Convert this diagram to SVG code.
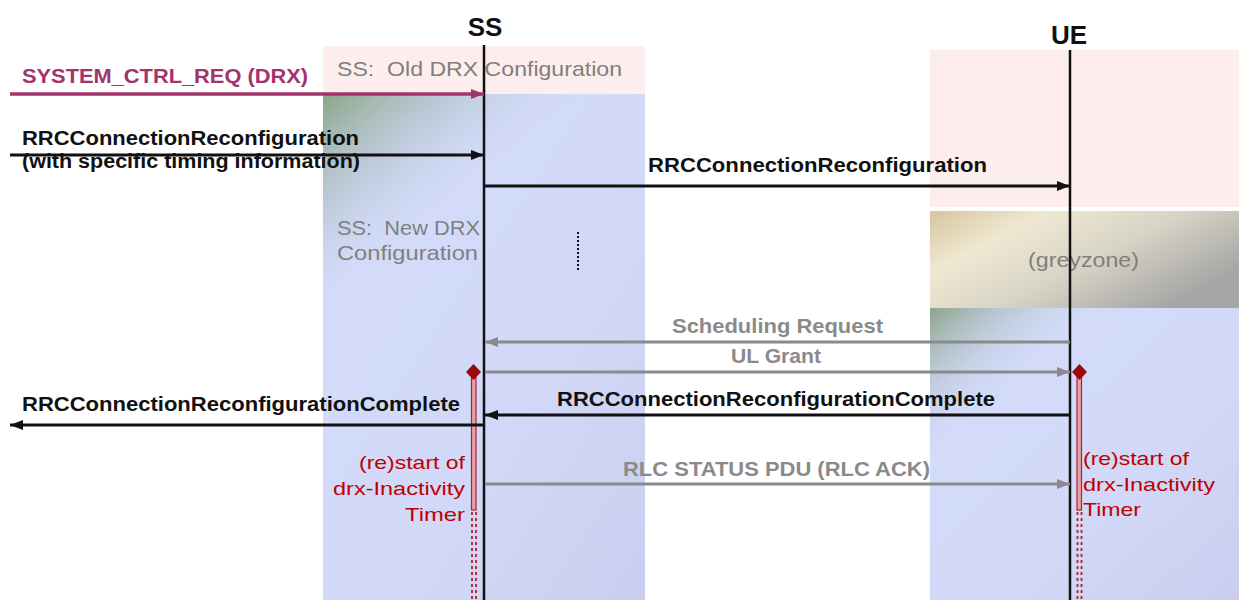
<svg xmlns="http://www.w3.org/2000/svg" width="1239" height="600" viewBox="0 0 1239 600">
  <style>
    .msg { font-family: "Liberation Sans", Arial, sans-serif; font-size: 20px; font-weight: bold; fill: #111111; }
    .gmsg { font-family: "Liberation Sans", Arial, sans-serif; font-size: 20px; font-weight: bold; fill: #8a8a8a; }
    .note { font-family: "Liberation Sans", Arial, sans-serif; font-size: 21px; fill: #7f7f7f; }
    .timer { font-family: "Liberation Sans", Arial, sans-serif; font-size: 19px; fill: #c00000; }
    .title { font-family: "Liberation Sans", Arial, sans-serif; font-size: 26px; font-weight: bold; fill: #111111; }
    .life { stroke: #111111; stroke-width: 2.5; fill: none; }
    .blk { stroke: #111111; stroke-width: 3; fill: none; marker-end: url(#hBlack); }
    .gry { stroke: #8a8a8a; stroke-width: 3; fill: none; marker-end: url(#hGrey); }
    .mag { stroke: #a3336b; stroke-width: 3.5; fill: none; marker-end: url(#hMag); }
    .bar { fill: #e6a2a6; stroke: #b0202a; stroke-width: 1.2; }
    .dots { stroke: #b0202a; stroke-width: 1.8; stroke-dasharray: 3 3; fill: none; }
    .dia { fill: #9b0a0a; }
  </style>
  <defs>
    <marker id="hBlack" markerUnits="userSpaceOnUse" markerWidth="14" markerHeight="12" refX="13" refY="6" orient="auto">
      <path d="M0,1 L13,6 L0,11 z" fill="#111111"/>
    </marker>
    <marker id="hGrey" markerUnits="userSpaceOnUse" markerWidth="14" markerHeight="12" refX="13" refY="6" orient="auto">
      <path d="M0,1 L13,6 L0,11 z" fill="#8a8a8a"/>
    </marker>
    <marker id="hMag" markerUnits="userSpaceOnUse" markerWidth="14" markerHeight="12" refX="13" refY="6" orient="auto">
      <path d="M0,1 L13,6 L0,11 z" fill="#a3336b"/>
    </marker>
    <linearGradient id="blueFill" x1="0" y1="0" x2="1" y2="1">
      <stop offset="0" stop-color="#d4ddfb"/>
      <stop offset="0.6" stop-color="#d2d9f8"/>
      <stop offset="1" stop-color="#cacdef"/>
    </linearGradient>
    <!-- soft green tint in the upper-left corner of the SS column -->
    <linearGradient id="greenSS" gradientUnits="userSpaceOnUse" x1="323" y1="94" x2="440" y2="230">
      <stop offset="0" stop-color="#8aa587" stop-opacity="1"/>
      <stop offset="0.45" stop-color="#a8b9b8" stop-opacity="0.55"/>
      <stop offset="1" stop-color="#d4ddfb" stop-opacity="0"/>
    </linearGradient>
    <!-- same tint for the UE column -->
    <linearGradient id="greenUE" gradientUnits="userSpaceOnUse" x1="930" y1="308" x2="1010" y2="400">
      <stop offset="0" stop-color="#8aa587" stop-opacity="1"/>
      <stop offset="0.45" stop-color="#a8b9b8" stop-opacity="0.5"/>
      <stop offset="1" stop-color="#d4ddfb" stop-opacity="0"/>
    </linearGradient>
    <linearGradient id="greyZone" x1="0" y1="0" x2="1" y2="0.6">
      <stop offset="0" stop-color="#d6c59c"/>
      <stop offset="0.28" stop-color="#efe8d2"/>
      <stop offset="0.6" stop-color="#d8d4c6"/>
      <stop offset="1" stop-color="#a6a6a6"/>
    </linearGradient>
  </defs>

  <!-- background areas -->
  <g id="ss-areas">
    <rect x="323" y="46" width="322" height="48" fill="#fdeeed"/>
    <rect x="323" y="94" width="322" height="506" fill="url(#blueFill)"/>
    <rect x="323" y="94" width="322" height="506" fill="url(#greenSS)"/>
    <text class="note" x="337" y="76" textLength="285" lengthAdjust="spacingAndGlyphs" xml:space="preserve">SS:  Old DRX Configuration</text>
    <text class="note" x="337" y="235" textLength="143" lengthAdjust="spacingAndGlyphs" xml:space="preserve">SS:  New DRX</text>
    <text class="note" x="337" y="260" textLength="141" lengthAdjust="spacingAndGlyphs">Configuration</text>
  </g>
  <g id="ue-areas">
    <rect x="930" y="50" width="309" height="157" fill="#fdeeed"/>
    <rect x="930" y="211" width="309" height="97" fill="url(#greyZone)"/>
    <rect x="930" y="308" width="309" height="292" fill="url(#blueFill)"/>
    <rect x="930" y="308" width="309" height="292" fill="url(#greenUE)"/>
    <text class="note" x="1028" y="267" textLength="111" lengthAdjust="spacingAndGlyphs">(greyzone)</text>
  </g>

  <!-- lifelines -->
  <g id="ss">
    <text class="title" x="485" y="36" text-anchor="middle">SS</text>
    <line class="life" x1="484" y1="45" x2="484" y2="600"/>
    <line x1="578" y1="232" x2="578" y2="272" stroke="#111111" stroke-width="2" stroke-dasharray="2 2"/>
  </g>
  <g id="ue">
    <text class="title" x="1069" y="44" text-anchor="middle">UE</text>
    <line class="life" x1="1070" y1="50" x2="1070" y2="600"/>
  </g>

  <!-- timers -->
  <g id="ss-timer">
    <rect class="bar" x="471.5" y="374" width="4.5" height="136"/>
    <line class="dots" x1="472" y1="512" x2="472" y2="600"/>
    <line class="dots" x1="476" y1="512" x2="476" y2="600"/>
    <path class="dia" d="M473.5,364 L481,372 L473.5,380 L466,372 z"/>
    <text class="timer" x="465" y="469" text-anchor="end" textLength="106" lengthAdjust="spacingAndGlyphs">(re)start of</text>
    <text class="timer" x="465" y="495" text-anchor="end" textLength="132" lengthAdjust="spacingAndGlyphs">drx-Inactivity</text>
    <text class="timer" x="465" y="521" text-anchor="end" textLength="60" lengthAdjust="spacingAndGlyphs">Timer</text>
  </g>
  <g id="ue-timer">
    <rect class="bar" x="1077" y="374" width="4.5" height="136"/>
    <line class="dots" x1="1077.5" y1="512" x2="1077.5" y2="600"/>
    <line class="dots" x1="1081.5" y1="512" x2="1081.5" y2="600"/>
    <path class="dia" d="M1079.5,364 L1087,372 L1079.5,380 L1072,372 z"/>
    <text class="timer" x="1083" y="465" textLength="106" lengthAdjust="spacingAndGlyphs">(re)start of</text>
    <text class="timer" x="1083" y="491" textLength="132" lengthAdjust="spacingAndGlyphs">drx-Inactivity</text>
    <text class="timer" x="1083" y="516" textLength="58" lengthAdjust="spacingAndGlyphs">Timer</text>
  </g>

  <!-- messages -->
  <g id="connectors">
    <line class="mag" x1="10" y1="94" x2="484" y2="94"/>
    <line class="blk" x1="10" y1="155" x2="484" y2="155"/>
    <line class="blk" x1="484" y1="186" x2="1070" y2="186"/>
    <line class="gry" x1="1070" y1="342" x2="485" y2="342"/>
    <line class="gry" x1="485" y1="372" x2="1070" y2="372"/>
    <line class="blk" x1="1070" y1="415" x2="485" y2="415"/>
    <line class="blk" x1="484" y1="425" x2="10" y2="425"/>
    <line class="gry" x1="485" y1="484" x2="1070" y2="484"/>
  </g>
  <g id="labels">
    <text class="msg" x="22" y="83" style="fill:#a3336b" textLength="286" lengthAdjust="spacingAndGlyphs">SYSTEM_CTRL_REQ (DRX)</text>
    <text class="msg" x="22" y="145" textLength="337" lengthAdjust="spacingAndGlyphs">RRCConnectionReconfiguration</text>
    <text class="msg" x="22" y="168" textLength="338" lengthAdjust="spacingAndGlyphs">(with specific timing information)</text>
    <text class="msg" x="648" y="172" textLength="339" lengthAdjust="spacingAndGlyphs">RRCConnectionReconfiguration</text>
    <text class="gmsg" x="672" y="333" textLength="211" lengthAdjust="spacingAndGlyphs">Scheduling Request</text>
    <text class="gmsg" x="731" y="363" textLength="90" lengthAdjust="spacingAndGlyphs">UL Grant</text>
    <text class="msg" x="557" y="406" textLength="438" lengthAdjust="spacingAndGlyphs">RRCConnectionReconfigurationComplete</text>
    <text class="msg" x="22" y="411" textLength="438" lengthAdjust="spacingAndGlyphs">RRCConnectionReconfigurationComplete</text>
    <text class="gmsg" x="623" y="476" textLength="307" lengthAdjust="spacingAndGlyphs">RLC STATUS PDU (RLC ACK)</text>
  </g>
</svg>
